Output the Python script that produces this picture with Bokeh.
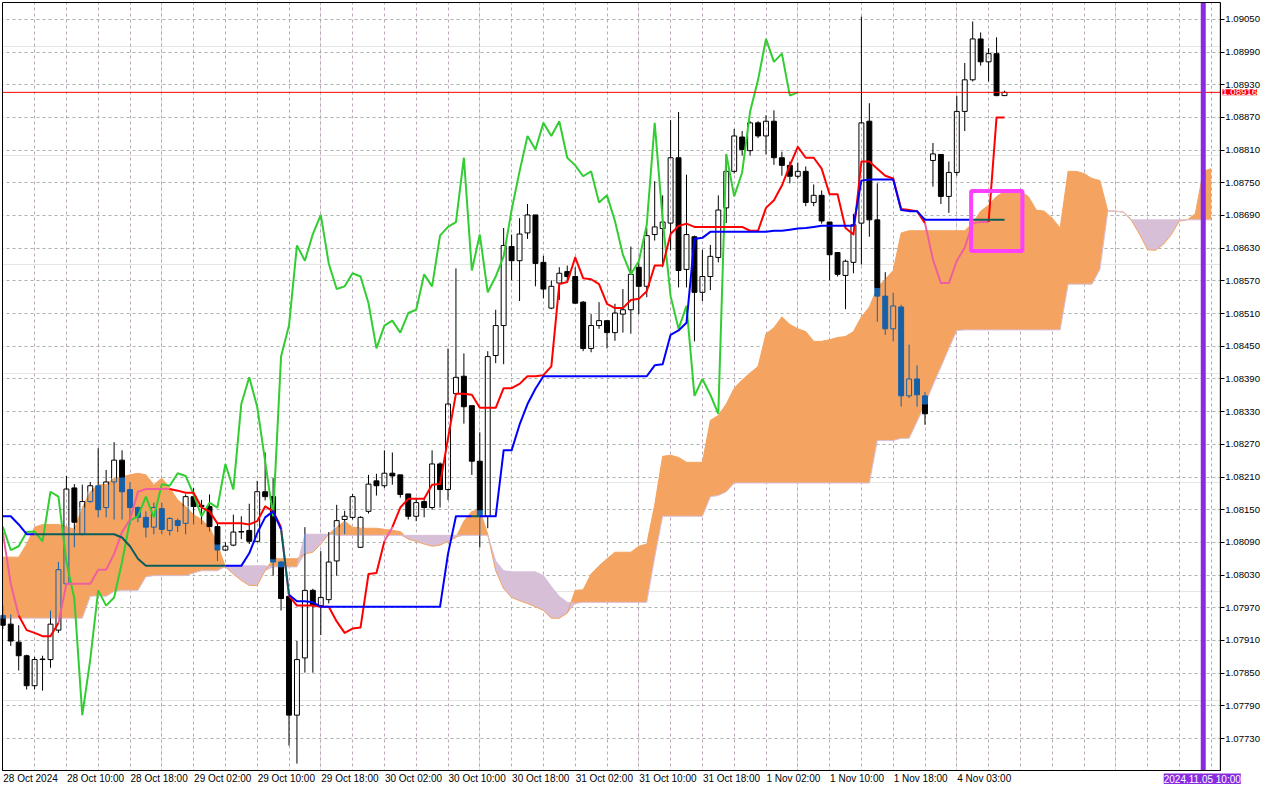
import numpy as np
from bokeh.plotting import figure
from bokeh.models import (Range1d, FixedTicker, PrintfTickFormatter, Label, CustomJSTickFormatter,
                          LinearAxis, Grid)
from bokeh.embed import file_html
from bokeh.resources import INLINE

# ------------------------------------------------------------------ data
time_labels = ["28 Oct 2024", "28 Oct 10:00", "28 Oct 18:00", "29 Oct 02:00", "29 Oct 10:00",
               "29 Oct 18:00", "30 Oct 02:00", "30 Oct 10:00", "30 Oct 18:00", "31 Oct 02:00",
               "31 Oct 10:00", "31 Oct 18:00", "1 Nov 02:00", "1 Nov 10:00", "1 Nov 18:00",
               "4 Nov 03:00"]
time_label_bars = [0, 8, 16, 24, 32, 40, 48, 56, 64, 72, 80, 88, 96, 104, 112, 120]

price_ticks = [1.07730, 1.07790, 1.07850, 1.07910, 1.07970, 1.08030, 1.08090, 1.08150,
               1.08210, 1.08270, 1.08330, 1.08390, 1.08450, 1.08510, 1.08570, 1.08630,
               1.08690, 1.08750, 1.08810, 1.08870, 1.08930, 1.08990, 1.09050]

open_ = [1.07956, 1.07940, 1.07907, 1.07882, 1.07827, 1.07875, 1.07875, 1.07929, 1.08014, 1.08190,
         1.08105, 1.08165, 1.08194, 1.08154, 1.08201, 1.08241, 1.08187, 1.08154, 1.08136, 1.08118,
         1.08152, 1.08112, 1.08130, 1.08125, 1.08174, 1.08156, 1.08156, 1.08119, 1.08076, 1.08085,
         1.08109, 1.08112, 1.08092, 1.08183, 1.08174, 1.08054, 1.07991, 1.07773, 1.07878, 1.08002,
         1.07974, 1.07985, 1.08056, 1.08132, 1.08136, 1.08081, 1.08147, 1.08203, 1.08194, 1.08217,
         1.08214, 1.08179, 1.08138, 1.08165, 1.08154, 1.08234, 1.08187, 1.08363, 1.08395, 1.08341,
         1.08239, 1.08138, 1.08433, 1.08488, 1.08633, 1.08607, 1.08658, 1.08691, 1.08604, 1.08520,
         1.08566, 1.08587, 1.08578, 1.08531, 1.08446, 1.08488, 1.08497, 1.08475, 1.08509, 1.08517,
         1.08595, 1.08560, 1.08655, 1.08666, 1.08676, 1.08796, 1.08591, 1.08651, 1.08549, 1.08578,
         1.08613, 1.08704, 1.08771, 1.08834, 1.08809, 1.08860, 1.08836, 1.08863, 1.08796, 1.08782,
         1.08762, 1.08771, 1.08714, 1.08727, 1.08678, 1.08622, 1.08580, 1.08604, 1.08676, 1.08863,
         1.08682, 1.08542, 1.08482, 1.08522, 1.08359, 1.08390, 1.08359, 1.08791, 1.08802, 1.08725,
         1.08769, 1.08881, 1.08939, 1.09014, 1.08972, 1.08987, 1.08910]

high = [1.07974, 1.07958, 1.07938, 1.07884, 1.07880, 1.07882, 1.07965, 1.08054, 1.08212, 1.08197,
        1.08196, 1.08201, 1.08263, 1.08223, 1.08274, 1.08259, 1.08201, 1.08156, 1.08147, 1.08163,
        1.08163, 1.08136, 1.08134, 1.08178, 1.08190, 1.08168, 1.08178, 1.08127, 1.08090, 1.08141,
        1.08138, 1.08161, 1.08203, 1.08255, 1.08208, 1.08056, 1.07992, 1.07909, 1.08118, 1.08005,
        1.08074, 1.08109, 1.08159, 1.08148, 1.08179, 1.08138, 1.08214, 1.08216, 1.08259, 1.08255,
        1.08214, 1.08179, 1.08172, 1.08172, 1.08259, 1.08237, 1.08446, 1.08593, 1.08437, 1.08341,
        1.08292, 1.08441, 1.08517, 1.08667, 1.08655, 1.08685, 1.08711, 1.08691, 1.08616, 1.08571,
        1.08595, 1.08598, 1.08595, 1.08533, 1.08509, 1.08531, 1.08497, 1.08528, 1.08555, 1.08633,
        1.08604, 1.08667, 1.08753, 1.08727, 1.08865, 1.08880, 1.08765, 1.08653, 1.08627, 1.08636,
        1.08727, 1.08802, 1.08849, 1.08845, 1.08863, 1.08863, 1.08874, 1.08883, 1.08807, 1.08789,
        1.08787, 1.08780, 1.08747, 1.08736, 1.08678, 1.08622, 1.08609, 1.08693, 1.09055, 1.08896,
        1.08749, 1.08586, 1.08548, 1.08526, 1.08453, 1.08415, 1.08366, 1.08823, 1.08802, 1.08789,
        1.08910, 1.08970, 1.09046, 1.09026, 1.08997, 1.09017, 1.08919]

low = [1.07931, 1.07900, 1.07855, 1.07820, 1.07820, 1.07818, 1.07860, 1.07924, 1.08011, 1.08081,
       1.08103, 1.08163, 1.08136, 1.08136, 1.08132, 1.08132, 1.08123, 1.08127, 1.08099, 1.08105,
       1.08105, 1.08103, 1.08109, 1.08105, 1.08123, 1.08123, 1.08110, 1.08056, 1.08074, 1.08083,
       1.08096, 1.08087, 1.08090, 1.08167, 1.08029, 1.07965, 1.07717, 1.07684, 1.07851, 1.07851,
       1.07920, 1.07978, 1.08029, 1.08105, 1.08132, 1.08080, 1.08143, 1.08176, 1.08190, 1.08196,
       1.08172, 1.08132, 1.08129, 1.08136, 1.08150, 1.08154, 1.08168, 1.08361, 1.08308, 1.08214,
       1.08081, 1.08116, 1.08419, 1.08417, 1.08571, 1.08533, 1.08647, 1.08560, 1.08538, 1.08518,
       1.08535, 1.08571, 1.08528, 1.08441, 1.08439, 1.08482, 1.08446, 1.08460, 1.08475, 1.08473,
       1.08509, 1.08540, 1.08644, 1.08595, 1.08626, 1.08558, 1.08558, 1.08459, 1.08533, 1.08553,
       1.08604, 1.08676, 1.08767, 1.08800, 1.08800, 1.08832, 1.08802, 1.08783, 1.08763, 1.08749,
       1.08758, 1.08707, 1.08707, 1.08675, 1.08571, 1.08578, 1.08518, 1.08584, 1.08600, 1.08651,
       1.08495, 1.08471, 1.08459, 1.08339, 1.08355, 1.08339, 1.08306, 1.08743, 1.08711, 1.08695,
       1.08763, 1.08845, 1.08936, 1.08965, 1.08936, 1.08909, 1.08910]

close = [1.07938, 1.07909, 1.07882, 1.07827, 1.07875, 1.07876, 1.07940, 1.08040, 1.08188, 1.08127,
         1.08165, 1.08194, 1.08150, 1.08201, 1.08241, 1.08183, 1.08154, 1.08136, 1.08118, 1.08154,
         1.08114, 1.08134, 1.08121, 1.08174, 1.08156, 1.08158, 1.08119, 1.08076, 1.08083, 1.08109,
         1.08110, 1.08092, 1.08183, 1.08174, 1.08054, 1.07987, 1.07773, 1.07875, 1.08002, 1.07974,
         1.07989, 1.08054, 1.08130, 1.08138, 1.08174, 1.08136, 1.08197, 1.08194, 1.08217, 1.08212,
         1.08178, 1.08138, 1.08163, 1.08154, 1.08234, 1.08187, 1.08344, 1.08393, 1.08339, 1.08239,
         1.08138, 1.08431, 1.08488, 1.08635, 1.08607, 1.08656, 1.08691, 1.08602, 1.08555, 1.08560,
         1.08584, 1.08578, 1.08529, 1.08446, 1.08488, 1.08497, 1.08475, 1.08511, 1.08517, 1.08582,
         1.08560, 1.08653, 1.08669, 1.08678, 1.08796, 1.08589, 1.08655, 1.08549, 1.08578, 1.08615,
         1.08700, 1.08771, 1.08836, 1.08811, 1.08860, 1.08836, 1.08863, 1.08796, 1.08782, 1.08762,
         1.08771, 1.08714, 1.08727, 1.08680, 1.08618, 1.08582, 1.08606, 1.08673, 1.08860, 1.08682,
         1.08542, 1.08482, 1.08524, 1.08359, 1.08390, 1.08361, 1.08326, 1.08803, 1.08725, 1.08769,
         1.08881, 1.08939, 1.09014, 1.08972, 1.08987, 1.08910, 1.08916]

tenkan = [1.08109, 1.08014, 1.07956, 1.07929, 1.07924, 1.07918, 1.07918, 1.07942, 1.08014, 1.08014,
          1.08014, 1.08014, 1.08040, 1.08040, 1.08069, 1.08109, 1.08132, 1.08183, 1.08188, 1.08188,
          1.08188, 1.08188, 1.08185, 1.08181, 1.08181, 1.08154, 1.08147, 1.08125, 1.08125, 1.08125,
          1.08125, 1.08123, 1.08129, 1.08156, 1.08147, 1.08118, 1.07992, 1.07974, 1.07974, 1.07974,
          1.07972, 1.07972, 1.07945, 1.07924, 1.07932, 1.07934, 1.08032, 1.08034, 1.08092, 1.08118,
          1.08154, 1.08170, 1.08170, 1.08170, 1.08196, 1.08197, 1.08281, 1.08363, 1.08363, 1.08361,
          1.08337, 1.08337, 1.08337, 1.08373, 1.08373, 1.08381, 1.08395, 1.08395, 1.08397, 1.08413,
          1.08564, 1.08568, 1.08613, 1.08575, 1.08573, 1.08564, 1.08528, 1.08520, 1.08520, 1.08535,
          1.08537, 1.08551, 1.08598, 1.08598, 1.08656, 1.08671, 1.08675, 1.08669, 1.08669, 1.08669,
          1.08669, 1.08669, 1.08669, 1.08669, 1.08662, 1.08662, 1.08704, 1.08718, 1.08745, 1.08782,
          1.08816, 1.08796, 1.08796, 1.08776, 1.08729, 1.08729, 1.08667, 1.08655, 1.08789, 1.08789,
          1.08776, 1.08763, 1.08758, 1.08702, 1.08700, 1.08698, 1.08676, 1.08609, 1.08566, 1.08566,
          1.08607, 1.08631, 1.08676, 1.08678, 1.08678, 1.08870, 1.08870]

kijun = [1.08138, 1.08138, 1.08123, 1.08105, 1.08105, 1.08105, 1.08105, 1.08105, 1.08105, 1.08105,
         1.08105, 1.08105, 1.08105, 1.08105, 1.08105, 1.08099, 1.08083, 1.08060, 1.08047, 1.08047,
         1.08047, 1.08047, 1.08047, 1.08047, 1.08047, 1.08047, 1.08047, 1.08047, 1.08047, 1.08047,
         1.08047, 1.08070, 1.08107, 1.08136, 1.08147, 1.08114, 1.07994, 1.07982, 1.07982, 1.07980,
         1.07972, 1.07972, 1.07972, 1.07972, 1.07972, 1.07972, 1.07972, 1.07972, 1.07972, 1.07972,
         1.07972, 1.07972, 1.07972, 1.07972, 1.07972, 1.07972, 1.08069, 1.08138, 1.08138, 1.08138,
         1.08138, 1.08138, 1.08138, 1.08259, 1.08259, 1.08306, 1.08344, 1.08372, 1.08395, 1.08395,
         1.08395, 1.08395, 1.08395, 1.08395, 1.08395, 1.08395, 1.08395, 1.08395, 1.08395, 1.08395,
         1.08395, 1.08395, 1.08415, 1.08417, 1.08471, 1.08479, 1.08493, 1.08647, 1.08649, 1.08660,
         1.08660, 1.08660, 1.08660, 1.08660, 1.08660, 1.08660, 1.08660, 1.08662, 1.08662, 1.08664,
         1.08666, 1.08667, 1.08669, 1.08671, 1.08671, 1.08671, 1.08671, 1.08671, 1.08754, 1.08756,
         1.08756, 1.08756, 1.08756, 1.08700, 1.08698, 1.08698, 1.08682, 1.08682, 1.08682, 1.08682,
         1.08682, 1.08682, 1.08682, 1.08682, 1.08682, 1.08682, 1.08682]

span_a = [1.08063, 1.08063, 1.08063, 1.08087, 1.08118, 1.08123, 1.08123, 1.08123, 1.08119, 1.08114,
          1.08154, 1.08183, 1.08196, 1.08196, 1.08208, 1.08210, 1.08214, 1.08217, 1.08214, 1.08196,
          1.08208, 1.08190, 1.08168, 1.08156, 1.08141, 1.08132, 1.08118, 1.08087, 1.08045, 1.08032,
          1.08020, 1.08011, 1.08011, 1.08038, 1.08060, 1.08060, 1.08060, 1.08060, 1.08069, 1.08072,
          1.08087, 1.08105, 1.08118, 1.08129, 1.08118, 1.08116, 1.08116, 1.08116, 1.08114, 1.08112,
          1.08110, 1.08096, 1.08092, 1.08087, 1.08083, 1.08085, 1.08092, 1.08099, 1.08129, 1.08147,
          1.08150, 1.08105, 1.08038, 1.08005, 1.07989, 1.07983, 1.07978, 1.07972, 1.07965, 1.07951,
          1.07951, 1.07960, 1.08002, 1.08003, 1.08032, 1.08047, 1.08060, 1.08072, 1.08072, 1.08072,
          1.08083, 1.08087, 1.08159, 1.08248, 1.08250, 1.08246, 1.08237, 1.08237, 1.08237, 1.08314,
          1.08323, 1.08344, 1.08373, 1.08388, 1.08401, 1.08413, 1.08473, 1.08484, 1.08504, 1.08490,
          1.08482, 1.08477, 1.08459, 1.08459, 1.08462, 1.08466, 1.08468, 1.08477, 1.08504, 1.08522,
          1.08558, 1.08573, 1.08589, 1.08658, 1.08662, 1.08662, 1.08662, 1.08662, 1.08662, 1.08662,
          1.08662, 1.08662, 1.08676, 1.08698, 1.08709, 1.08725, 1.08734, 1.08734, 1.08734, 1.08725,
          1.08700, 1.08698, 1.08685, 1.08667, 1.08771, 1.08771, 1.08767, 1.08758, 1.08754, 1.08698,
          1.08698, 1.08696, 1.08680, 1.08655, 1.08627, 1.08626, 1.08637, 1.08655, 1.08680, 1.08682,
          1.08693, 1.08771, 1.08776]

span_b = [1.07951, 1.07951, 1.07951, 1.07951, 1.07951, 1.07951, 1.07951, 1.07951, 1.07951, 1.07951,
          1.07951, 1.07991, 1.07992, 1.07991, 1.08000, 1.08002, 1.08002, 1.08002, 1.08027, 1.08029,
          1.08029, 1.08029, 1.08029, 1.08029, 1.08034, 1.08038, 1.08038, 1.08038, 1.08047, 1.08047,
          1.08047, 1.08047, 1.08047, 1.08047, 1.08045, 1.08045, 1.08045, 1.08045, 1.08105, 1.08105,
          1.08105, 1.08105, 1.08103, 1.08103, 1.08103, 1.08103, 1.08103, 1.08103, 1.08103, 1.08103,
          1.08103, 1.08103, 1.08103, 1.08103, 1.08103, 1.08103, 1.08103, 1.08103, 1.08103, 1.08103,
          1.08103, 1.08103, 1.08056, 1.08038, 1.08036, 1.08036, 1.08036, 1.08036, 1.08029, 1.08009,
          1.07991, 1.07980, 1.07978, 1.07980, 1.07980, 1.07980, 1.07980, 1.07980, 1.07980, 1.07980,
          1.07980, 1.07980, 1.08063, 1.08138, 1.08138, 1.08138, 1.08138, 1.08138, 1.08138, 1.08174,
          1.08176, 1.08183, 1.08199, 1.08199, 1.08199, 1.08199, 1.08199, 1.08199, 1.08199, 1.08199,
          1.08199, 1.08199, 1.08199, 1.08199, 1.08199, 1.08199, 1.08199, 1.08199, 1.08199, 1.08199,
          1.08277, 1.08277, 1.08277, 1.08281, 1.08281, 1.08312, 1.08344, 1.08379, 1.08412, 1.08446,
          1.08479, 1.08480, 1.08480, 1.08480, 1.08480, 1.08480, 1.08480, 1.08480, 1.08480, 1.08480,
          1.08480, 1.08480, 1.08480, 1.08480, 1.08564, 1.08564, 1.08564, 1.08564, 1.08591, 1.08698,
          1.08698, 1.08696, 1.08682, 1.08682, 1.08682, 1.08682, 1.08682, 1.08682, 1.08682, 1.08682,
          1.08682, 1.08682, 1.08682]

chikou_shift = 26
bid_price = 1.08916
marker_bar = 151
marker_label = "2024.11.05 10:00"
box_bars = [121.8, 128.25]
box_prices = [1.08625, 1.08735]

# ------------------------------------------------------------------ geometry / style
FONT = "Liberation Sans"
C_UP = "#f4a460"
C_DN = "#d8bfd8"
C_IN = "#1560a8"
W, Hh = 1264, 784
PPB = 7.95                                  # pixels per bar
XS = -2.3 / PPB                             # canvas left edge in bars
XE = XS + W / PPB                           # canvas right edge
BL, BR = -0.0375, 153.15                    # chart border (bars)
BB, BT = 1.076714, 1.090809                 # chart border (price)
PY = (BT - BB) / 768.0                      # price per pixel
YE = BT + 2 * PY
YS = YE - Hh * PY

O = np.array(open_); H = np.array(high); L = np.array(low); C = np.array(close)
n = len(C)
bars = np.arange(n)
A = np.array(span_a); B = np.array(span_b)
cbars = np.arange(len(A))
c_lo = np.minimum(A, B)
c_hi = np.maximum(A, B)

p = figure(width=W, height=Hh, x_range=Range1d(XS, XE), y_range=Range1d(YS, YE),
           output_backend="svg", toolbar_location=None, min_border=0,
           x_axis_location=None, y_axis_location=None)
p.background_fill_color = "white"
p.border_fill_color = "white"
p.outline_line_color = None

# grid
p.add_layout(Grid(dimension=0, ticker=FixedTicker(ticks=list(range(0, 153, 4))),
                  grid_line_color="#b9a6b9", grid_line_dash="3 3"))
p.add_layout(Grid(dimension=1, ticker=FixedTicker(ticks=price_ticks),
                  grid_line_color="#a9b3a9", grid_line_dash="3 3"))

# white margins outside the chart border
for l_, r_, b_, t_ in ((BR, XE + 1, YS - 1, YE + 1), (XS - 1, XE + 1, YS - 1, BB),
                       (XS - 1, BL, YS - 1, YE + 1), (XS - 1, XE + 1, BT, YE + 1)):
    p.quad(left=[l_], right=[r_], bottom=[b_], top=[t_], fill_color="white", line_color=None)

# price axis (right)
yax = LinearAxis(fixed_location=BR, bounds=(BB, BT), ticker=FixedTicker(ticks=price_ticks),
                 formatter=PrintfTickFormatter(format="%.5f"))
yax.major_tick_out = 4
yax.major_tick_in = 0
yax.minor_tick_out = 0
yax.minor_tick_in = 0
yax.major_label_standoff = 1
yax.axis_line_color = "black"
yax.major_tick_line_color = "black"
yax.major_label_text_font = FONT
yax.major_label_text_font_size = "9.6px"
yax.major_label_text_color = "black"
p.add_layout(yax, "right")

# time axis (below), labels start at their bar
CW = {"0": .556, "1": .556, "2": .556, "3": .556, "4": .556, "5": .556, "6": .556, "7": .556,
      "8": .556, "9": .556, " ": .278, ":": .278, "O": .778, "c": .5, "t": .278, "N": .722,
      "o": .556, "v": .5}
def text_w(s):
    return sum(CW.get(ch, .55) for ch in s) * 10.0
shifted = [round(b + (text_w(t) / 2.0 + 0.5) / PPB, 3) for b, t in zip(time_label_bars, time_labels)]
xax = LinearAxis(fixed_location=BB, bounds=(BL, BR), ticker=FixedTicker(ticks=shifted),
                 formatter=CustomJSTickFormatter(args=dict(labels=time_labels),
                                                 code="return labels[index];"))
xax.major_tick_out = 0
xax.major_tick_in = 0
xax.minor_tick_out = 0
xax.minor_tick_in = 0
xax.major_label_standoff = 2
xax.axis_line_color = "black"
xax.major_label_text_font = FONT
xax.major_label_text_font_size = "10px"
xax.major_label_text_color = "black"
p.add_layout(xax, "below")

# ichimoku cloud
p.varea(x=cbars, y1=A, y2=c_lo, fill_color=C_UP)
p.varea(x=cbars, y1=B, y2=c_lo, fill_color=C_DN)
p.line(cbars, A, line_color=C_UP, line_width=1)
p.line(cbars, B, line_color=C_DN, line_width=1)

# candles (parts inside the cloud are tinted as in the terminal)
HW = 0.31
def pieces(lo, hi, clo, chi):
    if hi <= clo or lo >= chi:
        return [(lo, hi, False)]
    a = max(lo, clo); b = min(hi, chi)
    out = []
    if lo < a:
        out.append((lo, a, False))
    out.append((a, b, True))
    if b < hi:
        out.append((b, hi, False))
    return out

sx0, sy0, sx1, sy1, sc = [], [], [], [], []
bx, btop, bbot, bcol = [], [], [], []
for i in range(n):
    clo, chi = c_lo[i], c_hi[i]
    top = max(O[i], C[i]); bot = min(O[i], C[i])
    for lo_, hi_ in ((top, H[i]), (L[i], bot)):
        if hi_ > lo_:
            for a, b, ins in pieces(lo_, hi_, clo, chi):
                sx0.append(i); sy0.append(a); sx1.append(i); sy1.append(b)
                sc.append(C_IN if ins else "black")
    if C[i] < O[i]:
        for a, b, ins in pieces(bot, top, clo, chi):
            bx.append(i); btop.append(b); bbot.append(a)
            bcol.append(C_IN if ins else "black")
    else:
        if top > bot:
            for xe in (i - HW, i + HW):
                for a, b, ins in pieces(bot, top, clo, chi):
                    sx0.append(xe); sy0.append(a); sx1.append(xe); sy1.append(b)
                    sc.append(C_IN if ins else "black")
        for ye in (bot, top):
            ins = clo < ye < chi
            sx0.append(i - HW); sy0.append(ye); sx1.append(i + HW); sy1.append(ye)
            sc.append(C_IN if ins else "black")

p.vbar(x=bx, width=2 * HW, top=btop, bottom=bbot, fill_color=bcol, line_color=bcol, line_width=1)
p.segment(x0=sx0, y0=sy0, x1=sx1, y1=sy1, line_color=sc, line_width=1)

# chikou span
p.line(bars[:n - chikou_shift], C[chikou_shift:], line_color="#32cd32", line_width=2)

# tenkan / kijun, recoloured where they run through the cloud
def runs(ys, c_out, c_in):
    ys = np.asarray(ys)
    xs_l, ys_l, cols = [], [], []
    cx, cy, cc = [0], [ys[0]], None
    for k in range(len(ys) - 1):
        m = (ys[k] + ys[k + 1]) / 2
        lo = (c_lo[k] + c_lo[k + 1]) / 2
        hi = (c_hi[k] + c_hi[k + 1]) / 2
        col = c_in if lo < m < hi else c_out
        if cc is None:
            cc = col
        if col != cc:
            xs_l.append(cx); ys_l.append(cy); cols.append(cc)
            cx, cy, cc = [k], [ys[k]], col
        cx.append(k + 1); cy.append(ys[k + 1])
    xs_l.append(cx); ys_l.append(cy); cols.append(cc)
    return xs_l, ys_l, cols

xs, ys, cols = runs(tenkan, "#ff0000", "#ee5f9e")
p.multi_line(xs=xs, ys=ys, line_color=cols, line_width=2, line_join="round")
xs, ys, cols = runs(kijun, "#0000ff", "#0b5c5c")
p.multi_line(xs=xs, ys=ys, line_color=cols, line_width=2, line_join="round")

# bid line
p.segment(x0=[BL], y0=[bid_price], x1=[BR], y1=[bid_price], line_color="#ff0000", line_width=1)

# rectangle object
p.quad(left=[box_bars[0]], right=[box_bars[1]], bottom=[box_prices[0]], top=[box_prices[1]],
       fill_alpha=0, line_color="#ff40ff", line_width=4)

# vertical line object
p.segment(x0=[marker_bar], y0=[BB], x1=[marker_bar], y1=[BT], line_color="#8a2be2", line_width=5)

# chart border
p.quad(left=[BL], right=[BR], bottom=[BB], top=[BT], fill_alpha=0, line_color="black", line_width=1)

# bid price tag and vertical-line time tag
p.add_layout(Label(x=BR, y=bid_price, text="%.5f" % bid_price, x_offset=2, text_align="left",
                   text_baseline="middle", text_color="white", background_fill_color="#ff0000",
                   text_font=FONT, text_font_size="9.6px"))
p.add_layout(Label(x=marker_bar, y=BB, text=marker_label, text_align="center", text_baseline="top",
                   y_offset=-3, x_offset=-1, text_color="white", background_fill_color="#8a2be2",
                   text_font=FONT, text_font_size="10px"))

open("out.html", "w").write(file_html(p, INLINE))
